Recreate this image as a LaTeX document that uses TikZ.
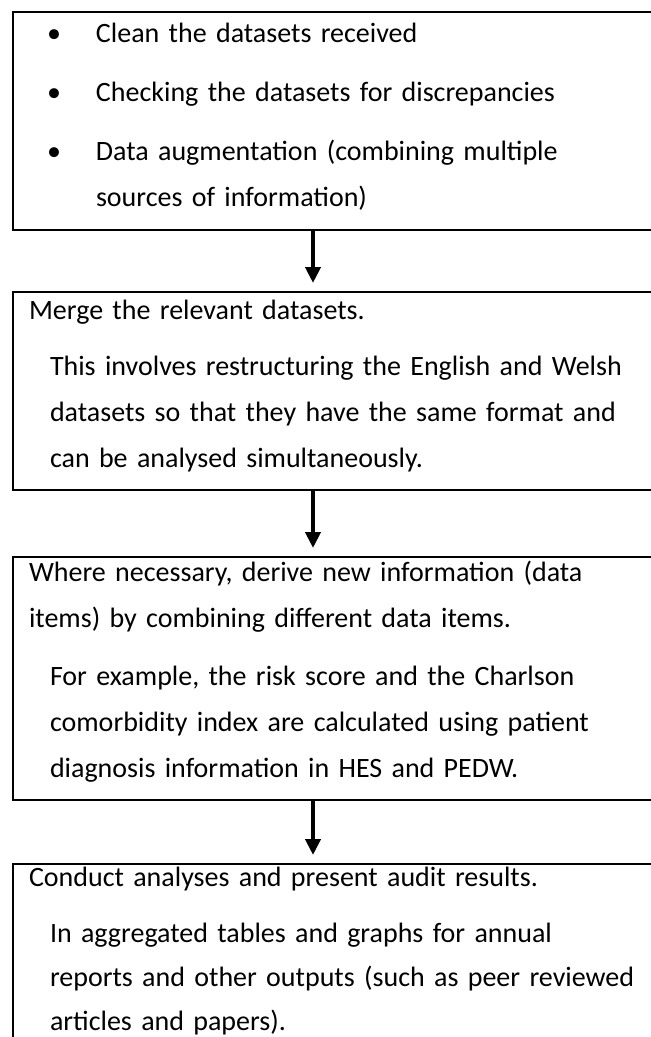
\documentclass[tikz,border=0pt]{standalone}
\usepackage{fontspec}
\setmainfont{Carlito}
\usetikzlibrary{positioning, arrows.meta}
\tikzset{
	stage/.style={draw, rectangle, line width=2pt, align=left, text width=620pt, inner xsep=16pt, inner ysep=0pt, font=\fontsize{28}{46}\selectfont},
}
\newcommand{\bitem}[1]{\makebox[67pt][l]{\hspace{18pt}\textbullet}#1}
\newcommand{\ind}{\hspace*{21pt}}

\begin{document}
\begin{tikzpicture}[x=1pt, y=1pt]
	\clip (0,0) rectangle (651,-1037);
	
	\node (clean) [stage, anchor=north west] at (12,-11) {\rule{0pt}{30pt}\bitem{Clean the datasets received}\\[13pt]
		\bitem{Checking the datasets for discrepancies}\\[13pt]
		\bitem{Data augmentation (combining multiple}\\
		\hspace*{67pt}sources of information)\rule[-24pt]{0pt}{24pt}};
	
	\node (merge) [stage, below=60pt of clean] {\rule{0pt}{27pt}Merge the relevant datasets.\\[10pt]
		\ind This involves restructuring the English and Welsh\\
		\ind datasets so that they have the same format and\\
		\ind can be analysed simultaneously.\rule[-23pt]{0pt}{23pt}};
	
	\node (derive) [stage, below=65pt of merge] {\rule{0pt}{24pt}Where necessary, derive new information (data\\
		items) by combining different data items.\\[12pt]
		\ind For example, the risk score and the Charlson\\
		\ind comorbidity index are calculated using patient\\
		\ind diagnosis information in HES and PEDW.\rule[-23pt]{0pt}{23pt}};
	
	\node (report) [stage, below=62pt of derive] {\rule{0pt}{22pt}Conduct analyses and present audit results.\\[10pt]
		\ind In aggregated tables and graphs for annual\\[-2pt]
		\ind reports and other outputs (such as peer reviewed\\[-2pt]
		\ind articles and papers).\rule[-30pt]{0pt}{30pt}};
	
	\begin{scope}[line width=4pt, black, ->, >={Triangle[length=16pt, width=15pt]}, shorten >=8pt]
		\draw ([xshift=301pt]clean.south west) -- ([xshift=301pt]merge.north west);
		\draw ([xshift=301pt]merge.south west) -- ([xshift=301pt]derive.north west);
		\draw ([xshift=301pt]derive.south west) -- ([xshift=301pt]report.north west);
	\end{scope}
\end{tikzpicture}
\end{document}
